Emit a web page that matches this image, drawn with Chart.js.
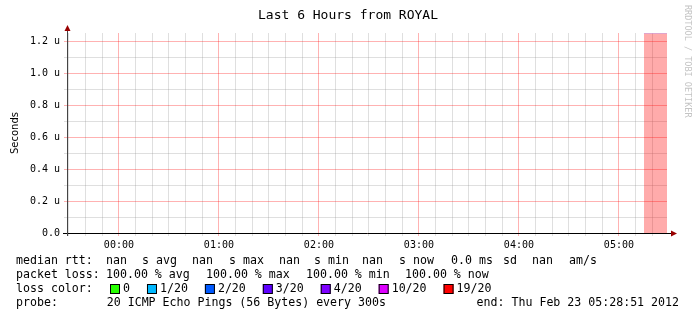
<!DOCTYPE html>
<html>
<head>
<meta charset="utf-8">
<script src="https://cdn.jsdelivr.net/npm/chart.js@4"></script>
<style>
  html, body { margin: 0; padding: 0; background: #fff; }
</style>
</head>
<body>
<canvas id="chart" width="697" height="321"></canvas>
<script>
// x values are minutes after 00:00 (23:28:51 is -31.15), y values in seconds
const startMin = -31.15;
const endMin = 328.85;
const hourLabels = ['00:00', '01:00', '02:00', '03:00', '04:00', '05:00'];
const yTickLabels = ['0.0', '0.2 u', '0.4 u', '0.6 u', '0.8 u', '1.0 u', '1.2 u'];
const lossTimes = [315, 328.85];
const lossValues = [1.25e-6, 1.25e-6];
const lossSteps = ['0', '1/20', '2/20', '3/20', '4/20', '10/20', '19/20'];
const lossColors = ['#26ff00', '#00b8ff', '#0059ff', '#5e00ff', '#7e00ff', '#dd00ff', '#ff0000'];
// legend rows: [text, x]
const rttRow = [['median rtt:', 16], ['nan', 106], ['s avg', 142], ['nan', 192], ['s max', 229],
  ['nan', 279], ['s min', 314], ['nan', 362], ['s now', 399], ['0.0 ms', 451], ['sd', 503],
  ['nan', 532], ['am/s', 569]];
const lossRow = [['packet loss:', 16], ['100.00 % avg', 106], ['100.00 % max', 206],
  ['100.00 % min', 306], ['100.00 % now', 405]];
const probeText = 'probe:       20 ICMP Echo Pings (56 Bytes) every 300s';
const endText = 'end: Thu Feb 23 05:28:51 2012';

const MONO = '"DejaVu Sans Mono", monospace';
const majorGrid = 'rgba(255, 0, 0, 0.3)';
const minorGrid = 'rgba(140, 140, 140, 0.28)';

const extras = {
  id: 'extras',
  beforeDraw(chart) {
    const c = chart.ctx;
    c.save();
    c.fillStyle = '#fff';
    c.fillRect(0, 0, chart.width, chart.height);
    c.restore();
  },
  afterDraw(chart) {
    const c = chart.ctx;
    const a = chart.chartArea;
    c.save();
    // axes
    c.strokeStyle = '#000';
    c.lineWidth = 1;
    c.beginPath();
    c.moveTo(a.left - 4, a.bottom + 0.5);
    c.lineTo(a.right + 5, a.bottom + 0.5);
    c.stroke();
    c.strokeStyle = '#444';
    c.beginPath();
    c.moveTo(a.left + 0.5, a.bottom + 3);
    c.lineTo(a.left + 0.5, a.top - 3);
    c.stroke();
    // arrows
    c.fillStyle = '#990000';
    c.beginPath();
    c.moveTo(a.left + 0.5, a.top - 8);
    c.lineTo(a.left - 2.5, a.top - 2);
    c.lineTo(a.left + 3.5, a.top - 2);
    c.closePath();
    c.fill();
    c.beginPath();
    c.moveTo(a.right + 10, a.bottom + 0.5);
    c.lineTo(a.right + 4, a.bottom - 2.5);
    c.lineTo(a.right + 4, a.bottom + 3.5);
    c.closePath();
    c.fill();

    // title
    c.fillStyle = '#000';
    c.textAlign = 'center';
    c.textBaseline = 'middle';
    c.font = '13px ' + MONO;
    c.fillText('Last 6 Hours from ROYAL', 348, 16);

    // y title
    c.save();
    c.translate(15, 133);
    c.rotate(-Math.PI / 2);
    c.font = '10px "DejaVu Sans", sans-serif';
    c.fillText('Seconds', 0, 0);
    c.restore();

    // watermark
    c.save();
    c.translate(687, 5);
    c.rotate(Math.PI / 2);
    c.textAlign = 'left';
    c.fillStyle = '#c4c4c4';
    c.font = '8.5px ' + MONO;
    c.fillText('RRDTOOL / TOBI OETIKER', 0, 0);
    c.restore();

    // legend
    c.font = '11.6px ' + MONO;
    c.textAlign = 'left';
    const rowY = [261, 275, 289, 303];
    rttRow.forEach(([t, x]) => c.fillText(t, x, rowY[0]));
    lossRow.forEach(([t, x]) => c.fillText(t, x, rowY[1]));
    c.fillText('loss color:', 16, rowY[2]);
    c.fillText(probeText, 16, rowY[3]);
    c.textAlign = 'right';
    c.fillText(endText, 679, rowY[3]);
    c.textAlign = 'left';
    const cw = c.measureText('0').width;
    let x = 110;
    lossSteps.forEach((s, i) => {
      c.fillStyle = lossColors[i];
      c.fillRect(x, rowY[2] - 5, 10, 10);
      c.strokeStyle = '#000';
      c.strokeRect(x + 0.5, rowY[2] - 4.5, 9, 9);
      c.fillStyle = '#000';
      c.fillText(s, x + 13, rowY[2]);
      x += 13 + cw * s.length + 17;
    });
    c.restore();
  }
};

new Chart(document.getElementById('chart'), {
  type: 'line',
  data: {
    datasets: [{
      data: lossTimes.map((t, i) => ({ x: t, y: lossValues[i] })),
      backgroundColor: 'rgba(255, 0, 0, 0.33)',
      borderColor: '#c0a0f0',
      borderWidth: 1,
      pointRadius: 0,
      fill: 'origin',
      tension: 0
    }]
  },
  options: {
    responsive: false,
    animation: false,
    layout: { padding: { left: 0, top: 33, right: 30, bottom: 0 } },
    plugins: { legend: { display: false }, tooltip: { enabled: false } },
    scales: {
      x: {
        type: 'linear',
        min: startMin,
        max: endMin,
        afterBuildTicks(scale) {
          const ticks = [];
          for (let v = -30; v <= 320; v += 10) ticks.push({ value: v });
          scale.ticks = ticks;
        },
        afterFit(scale) { scale.height = 88; },
        border: { display: false },
        grid: {
          color: ctx => (ctx.tick && ctx.tick.value % 60 === 0) ? majorGrid : minorGrid,
          tickLength: 3
        },
        ticks: {
          autoSkip: false,
          maxRotation: 0,
          padding: 3,
          color: '#000',
          font: { family: MONO, size: 10 },
          callback: v => (v % 60 === 0 && v >= 0) ? hourLabels[v / 60] : ''
        }
      },
      y: {
        min: 0,
        max: 1.25e-6,
        afterBuildTicks(scale) {
          const ticks = [];
          for (let i = 0; i <= 12; i++) ticks.push({ value: i * 1e-7 });
          scale.ticks = ticks;
        },
        afterFit(scale) { scale.width = 67; },
        border: { display: false },
        grid: {
          color: ctx => (ctx.index % 2 === 0) ? majorGrid : minorGrid,
          tickLength: 3
        },
        ticks: {
          autoSkip: false,
          padding: 4,
          color: '#000',
          font: { family: MONO, size: 10 },
          callback: (v, i) => (i % 2 === 0) ? yTickLabels[i / 2] : ''
        }
      }
    }
  },
  plugins: [extras]
});
</script>
</body>
</html>
